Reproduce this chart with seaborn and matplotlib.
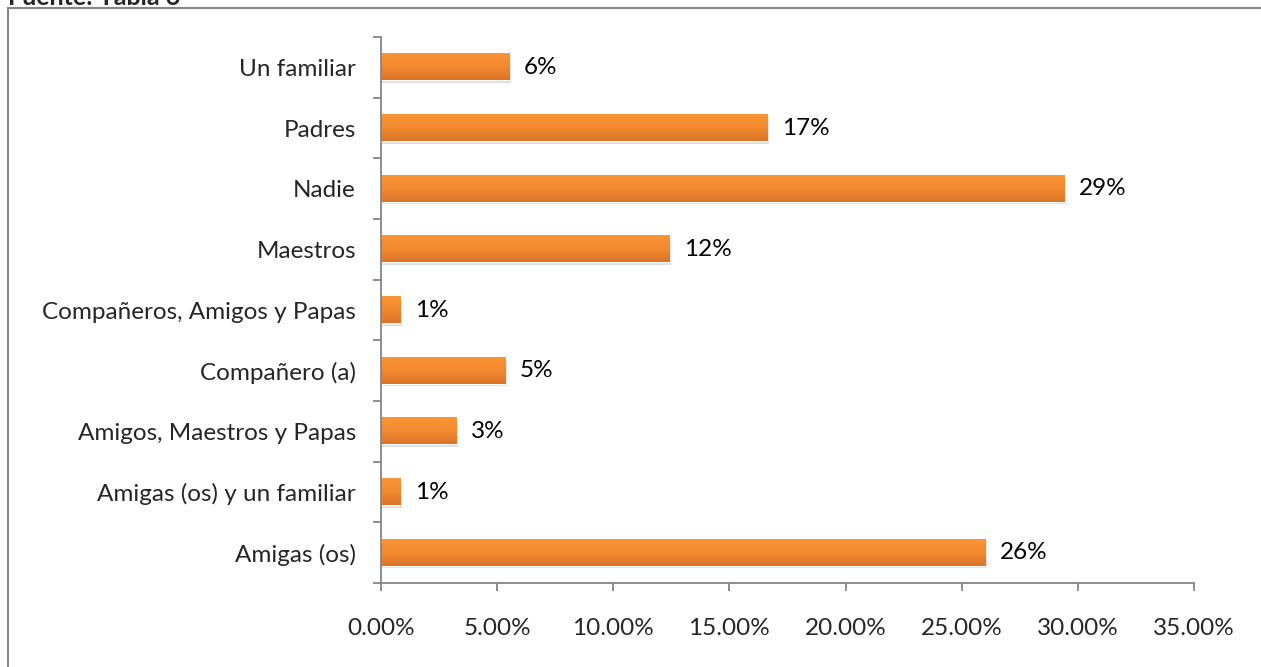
import numpy as np
import pandas as pd
import seaborn as sns
import matplotlib.pyplot as plt
from matplotlib.patches import Rectangle
from matplotlib.colors import LinearSegmentedColormap
from matplotlib.ticker import FuncFormatter, FixedLocator

categorias = ['Un familiar', 'Padres', 'Nadie', 'Maestros',
              'Compañeros, Amigos y Papas', 'Compañero (a)',
              'Amigos, Maestros y Papas', 'Amigas (os) y un familiar',
              'Amigas (os)']
porcentajes = [0.0551, 0.1662, 0.2941, 0.1240, 0.0082, 0.0534, 0.0323, 0.0082, 0.2601]
etiquetas = ['6%', '17%', '29%', '12%', '1%', '5%', '3%', '1%', '26%']

df = pd.DataFrame({'Categoria': categorias, 'Porcentaje': porcentajes})

sns.set_style('white')
plt.rcParams['font.family'] = ['Lato', 'DejaVu Sans']
fs = 17.5

fig = plt.figure(figsize=(12.61, 6.67), dpi=100)
ax = fig.add_axes([0.3021, 0.1259, 0.6448, 0.8186])

sns.barplot(data=df, x='Porcentaje', y='Categoria', orient='h', color='#F0852D',
            width=0.43, saturation=1, ax=ax)

# degradado vertical en cada barra
grad = np.linspace(0, 1, 64).reshape(-1, 1)
cmap = LinearSegmentedColormap.from_list('nar', ['#FA9535', '#F28A30', '#DB7428'])
for p in ax.patches[:]:
    x0, y0, w, h = p.get_x(), p.get_y(), p.get_width(), p.get_height()
    # sombra
    ax.add_patch(Rectangle((x0, y0 + h * 0.1), w + 0.0008, h, color='#000000',
                           alpha=0.13, zorder=p.get_zorder() - 0.5, lw=0))
    ax.imshow(grad, extent=(x0, x0 + w, y0 + h, y0), cmap=cmap, aspect='auto',
              zorder=p.get_zorder() + 0.1)

for i, (v, t) in enumerate(zip(porcentajes, etiquetas)):
    ax.text(v + 0.0065, i, t, va='center', ha='left', fontsize=fs, color='#000000')

ax.set_xlim(0, 0.35)
ax.set_ylim(len(categorias) - 0.5, -0.5)
ax.xaxis.set_major_locator(FixedLocator(np.arange(0, 0.351, 0.05)))
ax.xaxis.set_major_formatter(FuncFormatter(lambda v, _: f'{v * 100:.2f}%'))
ax.set_xlabel('')
ax.set_ylabel('')

ax.set_yticks(range(len(categorias)))
ax.set_yticklabels(categorias)
ax.set_yticks(np.arange(-0.5, len(categorias), 1), minor=True)
ax.tick_params(axis='y', which='major', left=False, length=0, pad=18, labelsize=fs)
ax.tick_params(axis='y', which='minor', left=True, length=6, width=1.3,
               color='#868686', direction='out')
ax.tick_params(axis='x', which='major', bottom=True, length=6, width=1.3,
               color='#868686', direction='out', pad=19, labelsize=fs)

for s in ['top', 'right']:
    ax.spines[s].set_visible(False)
for s in ['left', 'bottom']:
    ax.spines[s].set_color('#868686')
    ax.spines[s].set_linewidth(1.3)

# marco exterior y título recortado
fig.add_artist(Rectangle((8 / 1261, -0.01), 1.02, 1 - 8 / 667 + 0.01,
                         transform=fig.transFigure, fill=False,
                         edgecolor='#868686', lw=1.5))
fig.text(0.006, 1.004, 'Fuente: Tabla 6', fontsize=18, fontweight='bold',
         va='center', ha='left')

fig.savefig('out.png', dpi=100)
